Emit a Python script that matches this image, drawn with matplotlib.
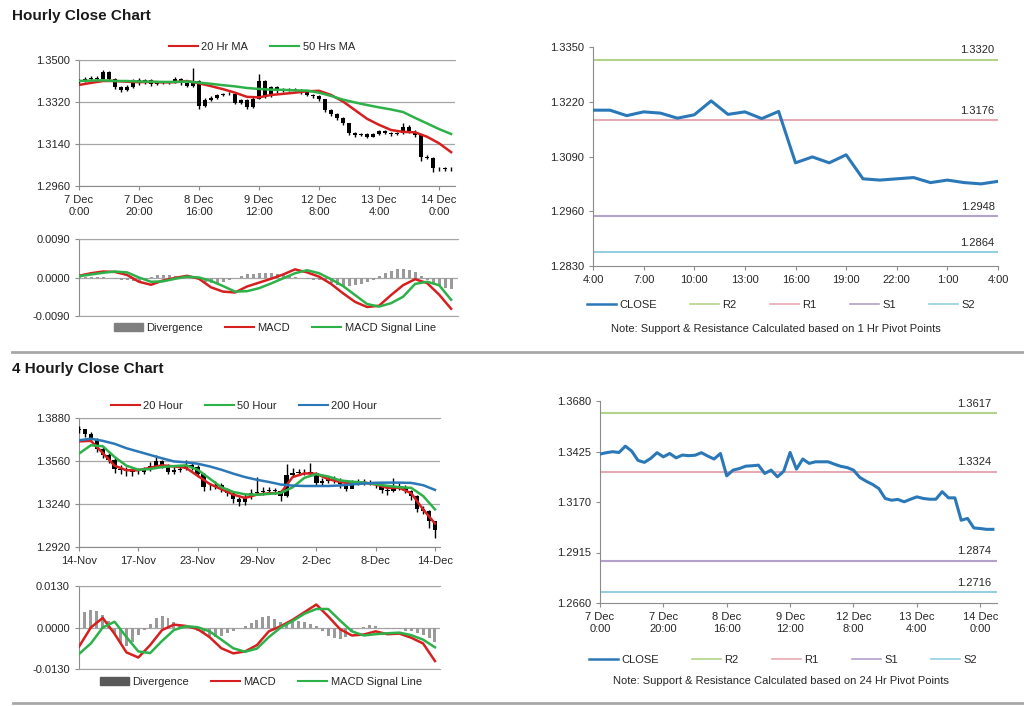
import numpy as np
import matplotlib
matplotlib.use("Agg")
import matplotlib.pyplot as plt
from matplotlib.lines import Line2D
from matplotlib.patches import Patch

plt.rcParams['font.family'] = ['Liberation Sans', 'DejaVu Sans']
plt.rcParams['font.size'] = 8

# ---------- hourly chart data (one candle per 2 hours, x = hours since 7 Dec 0:00) ----------
h_first_open = 1.3405
h_close = [1.3412, 1.3419, 1.3424, 1.3420, 1.3448, 1.3420, 1.3385, 1.3371, 1.3385, 1.3415,
           1.3400, 1.3414, 1.3396, 1.3406, 1.3404, 1.3406, 1.3418, 1.3400, 1.3390, 1.3412,
           1.3305, 1.3330, 1.3339, 1.3350, 1.3353, 1.3355, 1.3316, 1.3328, 1.3298, 1.3335,
           1.3410, 1.3345, 1.3385, 1.3366, 1.3372, 1.3374, 1.3373, 1.3362, 1.3352, 1.3344,
           1.3331, 1.3286, 1.3268, 1.3252, 1.3228, 1.3186, 1.3180, 1.3183, 1.3172, 1.3182,
           1.3195, 1.3188, 1.3184, 1.3186, 1.3215, 1.3192, 1.3180, 1.3084, 1.3080, 1.3038,
           1.3036, 1.3033, 1.3032]
h_high = [1.3418, 1.3426, 1.3430, 1.3432, 1.3458, 1.3452, 1.3424, 1.3390, 1.3392, 1.3420,
          1.3422, 1.3420, 1.3418, 1.3412, 1.3410, 1.3412, 1.3426, 1.3422, 1.3404, 1.3465,
          1.3414, 1.3336, 1.3345, 1.3356, 1.3360, 1.3362, 1.3358, 1.3334, 1.3332, 1.3340,
          1.3440, 1.3414, 1.3390, 1.3388, 1.3378, 1.3380, 1.3380, 1.3376, 1.3366, 1.3356,
          1.3348, 1.3334, 1.3290, 1.3272, 1.3256, 1.3232, 1.3192, 1.3188, 1.3188, 1.3188,
          1.3200, 1.3200, 1.3192, 1.3192, 1.3232, 1.3220, 1.3198, 1.3184, 1.3092, 1.3084,
          1.3042, 1.3040, 1.3040]
h_low = [1.3400, 1.3406, 1.3412, 1.3414, 1.3416, 1.3412, 1.3376, 1.3362, 1.3366, 1.3380,
         1.3394, 1.3396, 1.3390, 1.3392, 1.3398, 1.3398, 1.3402, 1.3394, 1.3384, 1.3386,
         1.3292, 1.3298, 1.3325, 1.3334, 1.3345, 1.3348, 1.3310, 1.3310, 1.3290, 1.3294,
         1.3332, 1.3338, 1.3340, 1.3360, 1.3362, 1.3366, 1.3366, 1.3356, 1.3346, 1.3338,
         1.3324, 1.3278, 1.3260, 1.3244, 1.3220, 1.3178, 1.3172, 1.3174, 1.3166, 1.3168,
         1.3178, 1.3182, 1.3176, 1.3178, 1.3182, 1.3186, 1.3172, 1.3068, 1.3074, 1.3020,
         1.3026, 1.3026, 1.3026]

# moving averages and MACD, one value per 4 hours
h_ma20 = [1.3393, 1.3402, 1.3410, 1.3410, 1.3407, 1.3405, 1.3406, 1.3404, 1.3405, 1.3410,
          1.3400, 1.3388, 1.3375, 1.3360, 1.3342, 1.3340, 1.3350, 1.3355, 1.3360, 1.3366,
          1.3368, 1.3350, 1.3322, 1.3285, 1.3248, 1.3222, 1.3200, 1.3192, 1.3190, 1.3171,
          1.3143, 1.3105]
h_ma50 = [1.3410, 1.3412, 1.3413, 1.3410, 1.3410, 1.3408, 1.3407, 1.3406, 1.3406, 1.3408,
          1.3403, 1.3398, 1.3392, 1.3387, 1.3380, 1.3376, 1.3373, 1.3372, 1.3370, 1.3369,
          1.3360, 1.3346, 1.3330, 1.3318, 1.3307, 1.3297, 1.3288, 1.3277, 1.3252, 1.3228,
          1.3204, 1.3183]
h_macd = [0.0004, 0.0010, 0.0014, 0.0013, 0.0006, -0.0010, -0.0017, -0.0007, -0.0001, 0.0004,
          -0.0003, -0.0023, -0.0033, -0.0035, -0.0021, -0.0012, -0.0003, 0.0007, 0.0019, 0.0012,
          0.0002, -0.0015, -0.0037, -0.0057, -0.0069, -0.0066, -0.0041, -0.0018, -0.0004, -0.0013,
          -0.0040, -0.0073]
h_signal = [0.0003, 0.0007, 0.0011, 0.0014, 0.0012, 0.0000, -0.0010, -0.0009, -0.0003, 0.0002,
            0.0000, -0.0008, -0.0020, -0.0033, -0.0032, -0.0025, -0.0014, -0.0002, 0.0010, 0.0017,
            0.0010, -0.0004, -0.0020, -0.0041, -0.0062, -0.0068, -0.0060, -0.0045, -0.0015, -0.0010,
            -0.0018, -0.0052]
# divergence, one bar per 2 hours
h_div = [0.0001, 0.0002, 0.0002, 0.0002, 0.0001, -0.0001, -0.0003, -0.0005, -0.0006, -0.0008,
         -0.0008, -0.0006, 0.0002, 0.0005, 0.0006, 0.0005, 0.0004, 0.0003, 0.0002, -0.0002,
         -0.0006, -0.0010, -0.0012, -0.0012, -0.0010, -0.0006, -0.0002, 0.0004, 0.0008, 0.0009,
         0.0010, 0.0011, 0.0010, 0.0009, 0.0009, 0.0006, 0.0002, -0.0002, -0.0004, -0.0005,
         -0.0006, -0.0009, -0.0013, -0.0017, -0.0020, -0.0019, -0.0017, -0.0015, -0.0010, -0.0005,
         0.0003, 0.0010, 0.0016, 0.0019, 0.0020, 0.0018, 0.0012, 0.0003, -0.0006, -0.0014,
         -0.0020, -0.0025, -0.0028]
h_tick_labels = ["7 Dec\n0:00", "7 Dec\n20:00", "8 Dec\n16:00", "9 Dec\n12:00",
                 "12 Dec\n8:00", "13 Dec\n4:00", "14 Dec\n0:00"]

# ---------- last 24 hours with 1 hr pivots ----------
d_close = [1.3200, 1.3200, 1.3187, 1.3196, 1.3193, 1.3181, 1.3189, 1.3222, 1.3190, 1.3196,
           1.3180, 1.3197, 1.3075, 1.3089, 1.3075, 1.3094, 1.3037, 1.3034, 1.3037, 1.3040,
           1.3028, 1.3034, 1.3028, 1.3025, 1.3031]
d_tick_labels = ["4:00", "7:00", "10:00", "13:00", "16:00", "19:00", "22:00", "1:00", "4:00"]
d_pivots = [1.3320, 1.3176, 1.2948, 1.2864]

# ---------- 4 hourly chart data (one candle per 2 bars) ----------
f_first_open = 1.3790
f_close = [1.3800, 1.3760, 1.3720, 1.3652, 1.3602, 1.3570, 1.3500, 1.3491, 1.3485, 1.3478,
           1.3480, 1.3491, 1.3520, 1.3560, 1.3528, 1.3478, 1.3495, 1.3503, 1.3533, 1.3515,
           1.3460, 1.3370, 1.3366, 1.3380, 1.3350, 1.3320, 1.3280, 1.3255, 1.3290, 1.3325,
           1.3329, 1.3335, 1.3342, 1.3334, 1.3300, 1.3453, 1.3473, 1.3476, 1.3478, 1.3473,
           1.3400, 1.3410, 1.3430, 1.3420, 1.3390, 1.3354, 1.3400, 1.3404, 1.3404, 1.3404,
           1.3380, 1.3345, 1.3335, 1.3375, 1.3370, 1.3340, 1.3300, 1.3200, 1.3185, 1.3110,
           1.3045]
f_high = [1.3822, 1.3800, 1.3775, 1.3730, 1.3670, 1.3620, 1.3585, 1.3530, 1.3515, 1.3510,
          1.3505, 1.3515, 1.3550, 1.3602, 1.3570, 1.3540, 1.3515, 1.3525, 1.3565, 1.3550,
          1.3530, 1.3470, 1.3395, 1.3410, 1.3395, 1.3360, 1.3330, 1.3295, 1.3315, 1.3350,
          1.3440, 1.3365, 1.3370, 1.3360, 1.3345, 1.3540, 1.3510, 1.3500, 1.3500, 1.3548,
          1.3480, 1.3430, 1.3450, 1.3450, 1.3430, 1.3390, 1.3420, 1.3425, 1.3425, 1.3420,
          1.3405, 1.3390, 1.3365, 1.3430, 1.3400, 1.3385, 1.3345, 1.3310, 1.3225, 1.3195,
          1.3110]
f_low = [1.3770, 1.3740, 1.3700, 1.3630, 1.3585, 1.3545, 1.3470, 1.3460, 1.3450, 1.3445,
         1.3460, 1.3465, 1.3485, 1.3510, 1.3510, 1.3460, 1.3465, 1.3480, 1.3495, 1.3495,
         1.3440, 1.3340, 1.3345, 1.3355, 1.3330, 1.3300, 1.3250, 1.3225, 1.3235, 1.3280,
         1.3305, 1.3310, 1.3320, 1.3315, 1.3265, 1.3290, 1.3440, 1.3455, 1.3455, 1.3450,
         1.3380, 1.3385, 1.3400, 1.3400, 1.3360, 1.3340, 1.3380, 1.3385, 1.3385, 1.3385,
         1.3360, 1.3320, 1.3310, 1.3330, 1.3345, 1.3320, 1.3270, 1.3180, 1.3165, 1.3060,
         1.2985]
# moving averages and MACD, one value per 4 bars
f_ma20 = [1.3706, 1.3710, 1.3620, 1.3525, 1.3491, 1.3491, 1.3510, 1.3528, 1.3520, 1.3510,
          1.3450, 1.3390, 1.3350, 1.3310, 1.3285, 1.3310, 1.3320, 1.3322, 1.3440, 1.3468,
          1.3465, 1.3425, 1.3404, 1.3392, 1.3400, 1.3385, 1.3360, 1.3360, 1.3320, 1.3200,
          1.3095]
f_ma50 = [1.3615, 1.3677, 1.3670, 1.3590, 1.3525, 1.3495, 1.3500, 1.3515, 1.3522, 1.3528,
          1.3495, 1.3430, 1.3365, 1.3330, 1.3312, 1.3309, 1.3315, 1.3322, 1.3364, 1.3435,
          1.3462, 1.3445, 1.3416, 1.3406, 1.3400, 1.3388, 1.3375, 1.3365, 1.3360, 1.3300,
          1.3200]
f_ma200 = [1.3714, 1.3726, 1.3710, 1.3688, 1.3655, 1.3630, 1.3605, 1.3580, 1.3557, 1.3550,
           1.3540, 1.3520, 1.3495, 1.3466, 1.3440, 1.3420, 1.3404, 1.3385, 1.3377, 1.3374,
           1.3374, 1.3374, 1.3378, 1.3386, 1.3392, 1.3398, 1.3399, 1.3399, 1.3397, 1.3380,
           1.3345]
f_macd = [-0.0060, 0.0000, 0.0030, -0.0020, -0.0078, -0.0094, -0.0055, -0.0008, 0.0009, 0.0005,
          -0.0005, -0.0030, -0.0065, -0.0081, -0.0075, -0.0055, -0.0012, 0.0004, 0.0024, 0.0048,
          0.0072, 0.0035, -0.0005, -0.0025, -0.0022, -0.0012, -0.0021, -0.0019, -0.0032, -0.0050,
          -0.0105]
f_signal = [-0.0083, -0.0050, 0.0000, 0.0018, -0.0030, -0.0075, -0.0080, -0.0042, -0.0008, 0.0004,
            0.0001, -0.0012, -0.0038, -0.0065, -0.0076, -0.0066, -0.0030, 0.0000, 0.0020, 0.0043,
            0.0058, 0.0058, 0.0022, -0.0012, -0.0025, -0.0021, -0.0018, -0.0016, -0.0024, -0.0038,
            -0.0062]
# divergence, one bar per 2 bars
f_div = [0.0030, 0.0050, 0.0056, 0.0052, 0.0040, 0.0020, -0.0020, -0.0050, -0.0058, -0.0045,
         -0.0025, -0.0008, 0.0012, 0.0030, 0.0036, 0.0030, 0.0018, 0.0008, 0.0002, -0.0004,
         -0.0010, -0.0018, -0.0026, -0.0030, -0.0026, -0.0018, -0.0010, -0.0002, 0.0005, 0.0014,
         0.0025, 0.0034, 0.0036, 0.0028, 0.0018, 0.0014, 0.0018, 0.0020, 0.0016, 0.0010,
         0.0004, -0.0012, -0.0026, -0.0034, -0.0036, -0.0030, -0.0015, -0.0005, 0.0002, 0.0008,
         0.0006, -0.0002, -0.0004, -0.0004, -0.0006, -0.0010, -0.0012, -0.0016, -0.0022, -0.0032,
         -0.0045]
f_tick_labels = ["14-Nov", "17-Nov", "23-Nov", "29-Nov", "2-Dec", "8-Dec", "14-Dec"]

# ---------- 24 hr pivot chart: hourly close, one point per 2 hours ----------
w_close = [1.3412, 1.3419, 1.3424, 1.3420, 1.3452, 1.3427, 1.3380, 1.3370, 1.3390, 1.3419,
           1.3398, 1.3415, 1.3393, 1.3407, 1.3404, 1.3406, 1.3419, 1.3402, 1.3387, 1.3415,
           1.3302, 1.3331, 1.3339, 1.3351, 1.3353, 1.3356, 1.3314, 1.3331, 1.3297, 1.3326,
           1.3420, 1.3336, 1.3387, 1.3365, 1.3373, 1.3373, 1.3373, 1.3361, 1.3350, 1.3344,
           1.3331, 1.3294, 1.3275, 1.3259, 1.3238, 1.3188, 1.3179, 1.3183, 1.3171, 1.3184,
           1.3196, 1.3188, 1.3184, 1.3184, 1.3222, 1.3191, 1.3191, 1.3078, 1.3087, 1.3039,
           1.3036, 1.3032, 1.3032]
w_pivots = [1.3617, 1.3324, 1.2874, 1.2716]

# ---------- styling ----------
W, H = 1024, 706
TXT = '#262626'
GRID = '#a6a6a6'
AX = '#8c8c8c'
RED = '#d62020'
GREEN = '#2db24a'
BLUE = '#2a78b8'
PIV_COLORS = ['#b3d38a', '#e6aab2', '#b4a2cc', '#94d0e2']
PIV_NAMES = ['R2', 'R1', 'S1', 'S2']


def box(l, t, r, b):
    return [l / W, 1 - b / H, (r - l) / W, (b - t) / H]


def base_style(ax, grid=True):
    ax.spines['right'].set_visible(False)
    ax.spines['top'].set_visible(grid)
    for s in ax.spines.values():
        s.set_color(AX)
    ax.tick_params(colors=AX, labelcolor=TXT, labelsize=8, length=3, direction='out')
    if grid:
        ax.spines['top'].set_color(GRID)
        ax.yaxis.grid(True, color=GRID, lw=0.9)
        ax.set_axisbelow(True)


def candles(ax, x, first_open, close, high, low, width):
    close = np.array(close)
    opens = np.r_[first_open, close[:-1]]
    ax.vlines(x, low, high, color='black', lw=1.0, zorder=3)
    ax.bar(x, close - opens, bottom=opens, width=width, color='black', zorder=3)


def legend(handles, labels, cx, cy, colsp=2.0):
    fig.legend(handles, labels, loc='center', bbox_to_anchor=(cx / W, 1 - cy / H),
               ncol=len(handles), frameon=False, fontsize=8, handlelength=2.6,
               handletextpad=0.3, columnspacing=colsp, labelcolor=TXT)


fig = plt.figure(figsize=(W / 100, H / 100), dpi=100)

# ---------- 1. HOURLY CANDLES ----------
ax1 = fig.add_axes(box(79, 60, 455, 186))
hx = np.arange(0, 125, 2)
hx4 = np.arange(0, 125, 4)
candles(ax1, hx, h_first_open, h_close, h_high, h_low, 1.5)
ax1.plot(hx4, h_ma20, color=RED, lw=1.8, zorder=4)
ax1.plot(hx4, h_ma50, color=GREEN, lw=1.8, zorder=4)
ax1.set_xlim(0, 125.3)
ax1.set_ylim(1.2960, 1.3500)
ax1.set_yticks([1.2960, 1.3140, 1.3320, 1.3500])
ax1.yaxis.set_major_formatter(plt.FormatStrFormatter('%.4f'))
ax1.set_xticks(np.arange(0, 121, 20))
ax1.set_xticklabels(h_tick_labels)
base_style(ax1)
legend([Line2D([], [], color=RED, lw=1.5), Line2D([], [], color=GREEN, lw=1.5)],
       ['20 Hr MA', '50 Hrs MA'], 262, 47)

# MACD
ax2 = fig.add_axes(box(79, 239, 458, 316))
ax2.bar(hx, h_div, width=1.0, color='#9a9a9a', zorder=2)
ax2.plot(hx4, h_macd, color=RED, lw=1.8, zorder=3)
ax2.plot(hx4, h_signal, color=GREEN, lw=1.8, zorder=3)
ax2.set_xlim(0, 126.3)
ax2.set_ylim(-0.009, 0.009)
ax2.set_yticks([-0.009, 0.0, 0.009])
ax2.yaxis.set_major_formatter(plt.FormatStrFormatter('%.4f'))
base_style(ax2)
ax2.spines['bottom'].set_color(GRID)
ax2.set_xticks([])
legend([Patch(color='#7f7f7f'), Line2D([], [], color=RED, lw=1.5),
        Line2D([], [], color=GREEN, lw=1.5)],
       ['Divergence', 'MACD', 'MACD Signal Line'], 275, 328)

# ---------- 2. LAST 24 HOURS, 1 HR PIVOTS ----------
ax3 = fig.add_axes(box(593, 47, 998, 266))
dx = np.arange(len(d_close))
for lvl, c in zip(d_pivots, PIV_COLORS):
    ax3.axhline(lvl, color=c, lw=1.5)
    ax3.annotate(f'{lvl:.4f}', (23.8, lvl), xytext=(0, 3), textcoords='offset points',
                 ha='right', va='bottom', fontsize=8, color=TXT)
ax3.plot(dx, d_close, color=BLUE, lw=2.2, zorder=4)
ax3.set_xlim(0, 24)
ax3.set_ylim(1.2830, 1.3350)
ax3.set_yticks([1.2830, 1.2960, 1.3090, 1.3220, 1.3350])
ax3.yaxis.set_major_formatter(plt.FormatStrFormatter('%.4f'))
ax3.set_xticks(np.arange(0, 25, 3))
ax3.set_xticklabels(d_tick_labels)
base_style(ax3, grid=False)
piv_handles = [Line2D([], [], color=BLUE, lw=1.8)] + \
              [Line2D([], [], color=c, lw=1.2) for c in PIV_COLORS]
legend(piv_handles, ['CLOSE'] + PIV_NAMES, 781, 305, colsp=3.0)
fig.text(776 / W, 1 - 329 / H, 'Note: Support & Resistance Calculated based on 1 Hr Pivot Points',
         ha='center', va='center', fontsize=8, color=TXT)

# separators and titles
fig.add_artist(Line2D([12 / W, 1], [1 - 352 / H] * 2, color='#a8a8a8', lw=2))
fig.add_artist(Line2D([13 / W, 1], [1 - 703 / H] * 2, color='#a8a8a8', lw=2))
fig.text(12 / W, 1 - 16 / H, 'Hourly Close Chart', fontsize=11, fontweight='bold',
         va='center', color='#1a1a1a')
fig.text(12 / W, 1 - 369 / H, '4 Hourly Close Chart', fontsize=11, fontweight='bold',
         va='center', color='#1a1a1a')

# ---------- 3. 4 HOURLY CANDLES ----------
ax4 = fig.add_axes(box(79, 418, 440, 547))
fx = np.arange(0, 121, 2)
fx4 = np.arange(0, 121, 4)
candles(ax4, fx, f_first_open, f_close, f_high, f_low, 1.5)
ax4.plot(fx4, f_ma20, color=RED, lw=1.8, zorder=4)
ax4.plot(fx4, f_ma50, color=GREEN, lw=1.8, zorder=4)
ax4.plot(fx4, f_ma200, color=BLUE, lw=1.8, zorder=4)
ax4.set_xlim(0, 121.7)
ax4.set_ylim(1.2920, 1.3880)
ax4.set_yticks([1.2920, 1.3240, 1.3560, 1.3880])
ax4.yaxis.set_major_formatter(plt.FormatStrFormatter('%.4f'))
ax4.set_xticks(np.arange(0, 121, 20))
ax4.set_xticklabels(f_tick_labels)
base_style(ax4)
legend([Line2D([], [], color=RED, lw=1.5), Line2D([], [], color=GREEN, lw=1.5),
        Line2D([], [], color=BLUE, lw=1.5)],
       ['20 Hour', '50 Hour', '200 Hour'], 244, 406)

# MACD
ax5 = fig.add_axes(box(79, 586, 440, 669))
ax5.bar(fx, f_div, width=1.0, color='#9a9a9a', zorder=2)
ax5.plot(fx4, f_macd, color=RED, lw=1.8, zorder=3)
ax5.plot(fx4, f_signal, color=GREEN, lw=1.8, zorder=3)
ax5.set_xlim(0, 121.7)
ax5.set_ylim(-0.013, 0.013)
ax5.set_yticks([-0.013, 0.0, 0.013])
ax5.yaxis.set_major_formatter(plt.FormatStrFormatter('%.4f'))
base_style(ax5)
ax5.spines['bottom'].set_color(GRID)
ax5.set_xticks([])
legend([Patch(color='#595959'), Line2D([], [], color=RED, lw=1.5),
        Line2D([], [], color=GREEN, lw=1.5)],
       ['Divergence', 'MACD', 'MACD Signal Line'], 261, 682)

# ---------- 4. WEEK, 24 HR PIVOTS ----------
ax6 = fig.add_axes(box(600, 401, 997, 603))
wx = np.arange(0, 125, 2)
for lvl, c in zip(w_pivots, PIV_COLORS):
    ax6.axhline(lvl, color=c, lw=1.5)
    ax6.annotate(f'{lvl:.4f}', (123.5, lvl), xytext=(0, 3), textcoords='offset points',
                 ha='right', va='bottom', fontsize=8, color=TXT)
ax6.plot(wx, w_close, color=BLUE, lw=2.2, zorder=4)
ax6.set_xlim(0, 125.3)
ax6.set_ylim(1.2660, 1.3680)
ax6.set_yticks([1.2660, 1.2915, 1.3170, 1.3425, 1.3680])
ax6.yaxis.set_major_formatter(plt.FormatStrFormatter('%.4f'))
ax6.set_xticks(np.arange(0, 121, 20))
ax6.set_xticklabels(h_tick_labels)
base_style(ax6, grid=False)
legend(piv_handles, ['CLOSE'] + PIV_NAMES, 783, 660, colsp=3.0)
fig.text(781 / W, 1 - 681 / H, 'Note: Support & Resistance Calculated based on 24 Hr Pivot Points',
         ha='center', va='center', fontsize=8, color=TXT)

fig.savefig('out.png', dpi=100)
